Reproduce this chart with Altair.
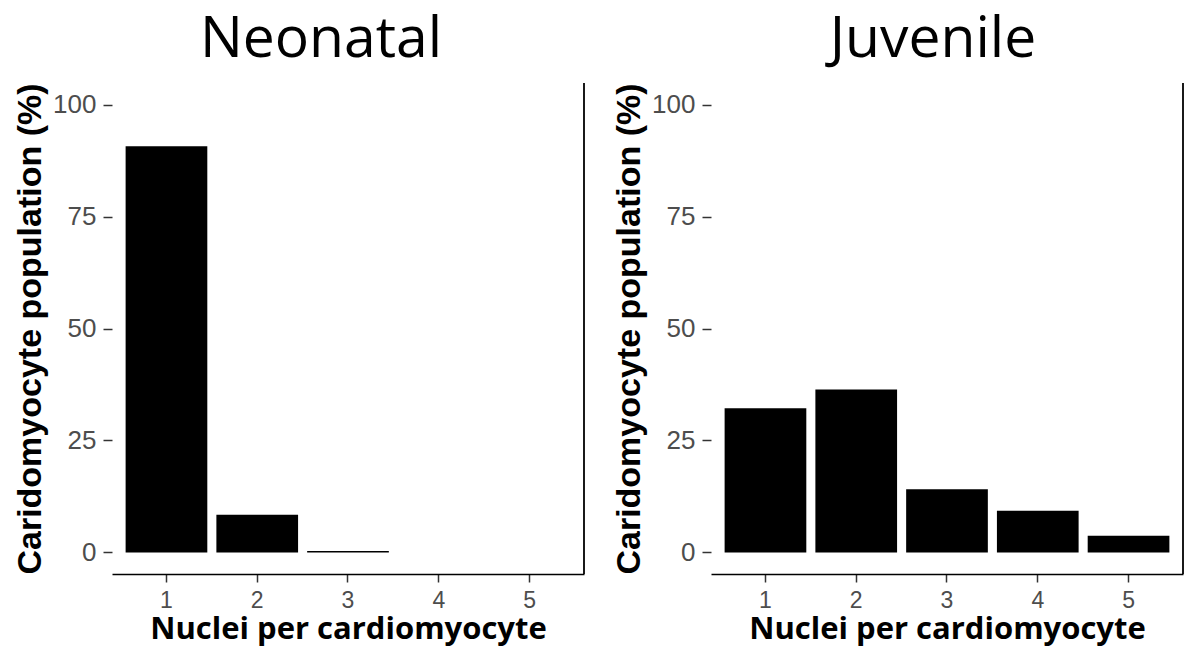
import altair as alt
import pandas as pd

nuclei = [1, 2, 3, 4, 5]
neonatal = [90.7, 8.4, 0.35, 0, 0]
juvenile = [32.2, 36.4, 14.1, 9.3, 3.75]
titles = ["Neonatal", "Juvenile"]
y_ticks = [0, 25, 50, 75, 100]
x_title = "Nuclei per cardiomyocyte"
y_title = "Caridomyocyte population (%)"

W, H = 472, 491


def panel(values, title, dx):
    df = pd.DataFrame({"n": nuclei, "pct": values})
    bars = alt.Chart(df).mark_bar(color="black").encode(
        x=alt.X(
            "n:O",
            scale=alt.Scale(paddingInner=0.1, paddingOuter=0.15),
            axis=alt.Axis(
                title=x_title, labelAngle=0, labelFont="Liberation Sans",
                labelFontSize=23, labelColor="#4D4D4D", labelPadding=7,
                tickColor="#333333", tickSize=8, tickWidth=1.5,
                domainColor="black", domainWidth=1.6,
                titleFont="Open Sans", titleFontSize=31, titleFontWeight="bold",
                titleColor="black", titlePadding=2,
            ),
        ),
        y=alt.Y(
            "pct:Q",
            scale=alt.Scale(domain=[-4.8, 104.8], nice=False),
            axis=alt.Axis(
                values=y_ticks, title=y_title, domain=False, grid=False,
                labelFont="Liberation Sans", labelFontSize=26,
                labelColor="#4D4D4D", labelPadding=7,
                tickColor="#333333", tickSize=9, tickWidth=1.5,
                titleFont="Liberation Sans", titleFontSize=34,
                titleFontWeight="bold", titleColor="black", titlePadding=5,
            ),
        ),
        y2=alt.datum(0),
    )
    frame = alt.Chart(pd.DataFrame({"k": [0]})).mark_rule(
        color="black", strokeWidth=1.8
    ).encode(x=alt.value(W), y=alt.value(0), y2=alt.value(H))
    return alt.layer(bars, frame).properties(
        width=W, height=H,
        title=alt.TitleParams(
            title, font="Open Sans", fontSize=57, fontWeight="normal",
            color="black", anchor="middle", dx=dx, offset=13,
        ),
    )


chart = alt.hconcat(
    panel(neonatal, titles[0], -27),
    panel(juvenile, titles[1], -14),
    spacing=27,
).properties(
    padding={"left": 5, "right": 3, "top": 3, "bottom": 6}
).configure_view(stroke=None)

chart.save("out.html", embed_options={"renderer": "svg", "actions": False})
